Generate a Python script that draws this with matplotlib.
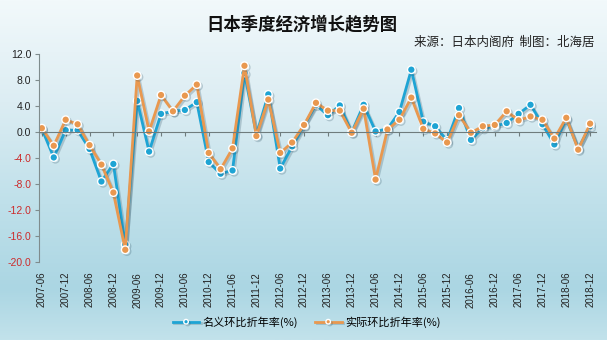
#!/usr/bin/env python3
"""Japan quarterly GDP growth (nominal vs real, annualised q/q)."""

import matplotlib
matplotlib.use("Agg")
import matplotlib.pyplot as plt
import matplotlib.patheffects as pe
from matplotlib.colors import LinearSegmentedColormap
import numpy as np
import pandas as pd

CJK = ["Noto Sans CJK SC", "DejaVu Sans"]
NUM = ["Liberation Sans", "DejaVu Sans"]

quarters = [p.strftime("%Y-%m") for p in pd.period_range("2007-06", "2018-12", freq="Q-DEC").to_timestamp(how="end")]

nominal = [0.5, -3.9, 0.3, 0.3, -2.6, -7.6, -4.9, -17.3, 4.8, -3.0,
           2.8, 3.2, 3.4, 4.6, -4.6, -6.4, -5.9, 9.1, -0.4, 5.8,
           -5.6, -2.2, 1.0, 4.2, 2.6, 4.1, 0.0, 4.2, 0.1, 0.5,
           3.1, 9.6, 1.6, 0.9, -1.3, 3.7, -1.2, 0.6, 0.9, 1.4,
           2.8, 4.2, 1.2, -1.9, 2.0, -2.5, 0.9]
real = [0.6, -2.1, 1.9, 1.2, -2.0, -5.0, -9.3, -18.1, 8.7, 0.1,
        5.7, 3.2, 5.6, 7.3, -3.2, -5.7, -2.5, 10.2, -0.6, 5.0,
        -3.2, -1.6, 1.1, 4.5, 3.3, 3.3, -0.1, 3.6, -7.3, 0.4,
        1.9, 5.3, 0.5, -0.2, -1.6, 2.6, -0.1, 0.9, 1.1, 3.2,
        1.8, 2.4, 1.9, -1.0, 2.2, -2.7, 1.3]
yticks = [12, 8, 4, 0, -4, -8, -12, -16, -20]

BLUE = "#1ea4d4"
ORANGE = "#e9984f"


def main() -> None:
    fig = plt.figure(figsize=(6.07, 3.40), dpi=100)

    # background gradient
    bg = fig.add_axes([0, 0, 1, 1], zorder=-10)
    cmap = LinearSegmentedColormap.from_list("bg", [
        (0.0, "#f2f9fb"), (0.3, "#dcedf3"), (0.6, "#bfe0ea"),
        (0.85, "#abd6e3"), (1.0, "#c2e2eb")])
    grad = np.linspace(0, 1, 256).reshape(-1, 1)
    bg.imshow(grad, aspect="auto", cmap=cmap, extent=[0, 1, 0, 1])
    bg.set_axis_off()

    ax = fig.add_axes([0.065, 0.229, 0.917, 0.612])
    ax.patch.set_alpha(0)
    x = np.arange(len(quarters))

    shadow = [pe.SimpleLineShadow(offset=(1.2, -1.2), alpha=0.25, shadow_color="#335566"), pe.Normal()]
    for vals, color, label in [(nominal, BLUE, "名义环比折年率(%)"), (real, ORANGE, "实际环比折年率(%)")]:
        ax.plot(x, vals, color=color, lw=2.0, marker="o", markersize=5.5,
                markerfacecolor=color, markeredgecolor="white", markeredgewidth=1.0,
                label=label, path_effects=shadow)

    ax.set_ylim(-20, 12)
    ax.set_xlim(-0.2, 46.5)
    ax.set_yticks(yticks)
    ax.set_yticklabels([f"{v:.1f}" for v in yticks], fontsize=7.5, family=NUM)
    for lbl, v in zip(ax.get_yticklabels(), yticks):
        lbl.set_color("#cc2b2b" if v < 0 else "#222222")
    ax.tick_params(axis="y", length=3, color="#7f8c8d", pad=3)

    for s in ["top", "right"]:
        ax.spines[s].set_visible(False)
    ax.spines["left"].set_color("#7f8c8d")
    ax.spines["bottom"].set_position(("data", 0))
    ax.spines["bottom"].set_color("#6f7c7d")
    ax.set_xticks(x[::2])
    ax.tick_params(axis="x", length=3, color="#6f7c7d", labelbottom=False)

    sec = ax.secondary_xaxis("bottom")
    sec.set_xticks(x[::2])
    sec.set_xticklabels(quarters[::2], rotation=90, fontsize=7, family=NUM, color="#222222")
    sec.tick_params(length=0, pad=7)
    sec.spines["bottom"].set_visible(False)

    fig.text(0.497, 0.928, "日本季度经济增长趋势图", ha="center", va="center",
             fontsize=12.5, weight="bold", family=CJK, color="#111111")
    fig.text(0.980, 0.874, "来源：日本内阁府  制图：北海居", ha="right", va="center",
             fontsize=9, style="italic", family=CJK, color="#222222")

    fig.legend(loc="center", bbox_to_anchor=(0.505, 0.053), ncol=2, frameon=False,
               prop={"family": CJK, "size": 8}, handlelength=2.4, columnspacing=1.5,
               handletextpad=0.3, numpoints=1, markerscale=0.6)

    fig.savefig("out.png", dpi=100)
    plt.close(fig)


if __name__ == "__main__":
    main()
